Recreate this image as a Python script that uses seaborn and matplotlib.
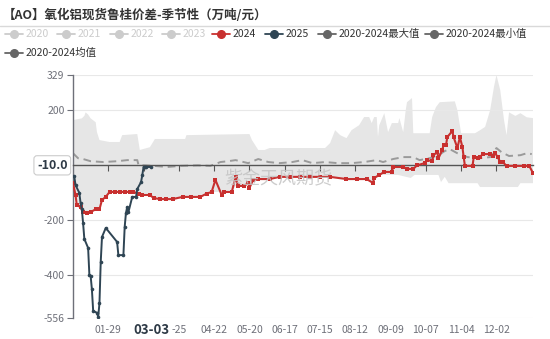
import numpy as np
import pandas as pd
import matplotlib
matplotlib.use("Agg")
import matplotlib.pyplot as plt
import seaborn as sns
from matplotlib.lines import Line2D

# ---------------- data ----------------
title = "【AO】氧化铝现货鲁桂价差-季节性（万吨/元）"
legend_labels = ["2020", "2021", "2022", "2023", "2024", "2025",
                 "2020-2024最大值", "2020-2024最小值", "2020-2024均值"]

dates_2024 = ["01-01", "01-03", "01-04", "01-07", "01-09", "01-12", "01-15", "01-19", "01-22", "01-24", "01-27", "01-30",
              "02-03", "02-07", "02-11", "02-15", "02-18", "02-22", "02-25",
              "03-02", "03-05", "03-10", "03-15", "03-20", "03-28",
              "04-04", "04-11", "04-16", "04-20", "04-23", "04-28", "04-30",
              "05-06", "05-09", "05-11", "05-16", "05-19", "05-20", "05-23", "05-27",
              "06-05", "06-13", "06-21", "06-29",
              "07-07", "07-15", "07-23",
              "08-05", "08-13", "08-21", "08-26", "08-27", "08-31",
              "09-04", "09-10", "09-11", "09-19", "09-22", "09-27", "09-30",
              "10-06", "10-08", "10-12", "10-13", "10-16", "10-17", "10-20", "10-21", "10-23", "10-24", "10-28", "10-29",
              "11-01", "11-03", "11-05", "11-06", "11-07", "11-13", "11-14", "11-17", "11-19", "11-21", "11-27", "11-29",
              "12-01", "12-03", "12-05", "12-07", "12-10", "12-17", "12-24", "12-28", "12-31"]
vals_2024 = [-64, -108, -145, -152, -170, -174, -170, -160, -160, -126, -115, -97,
             -97, -97, -97, -97, -97, -103, -108,
             -108, -119, -123, -123, -123, -115,
             -115, -115, -103, -97, -53, -108, -97,
             -97, -42, -75, -75, -64, -82, -53, -50,
             -50, -42, -42, -42,
             -42, -42, -42,
             -50, -50, -50, -64, -46, -35,
             -24, -24, -6, -6, -13, -13, 0,
             8, 19, 15, 37, 48, 26, 56, 74, 74, 103, 125, 103,
             63, 103, 66, 30, -2, -2, 30, 26, 30, 41, 41, 34,
             44, 30, 12, 12, -2, -2, -2, -2, -28]

dates_2025 = ["01-02", "01-03", "01-06", "01-07", "01-08", "01-09", "01-10", "01-13", "01-14", "01-15", "01-16", "01-17",
              "01-20", "01-21", "01-22", "01-23", "01-24", "01-27",
              "02-05", "02-06", "02-10", "02-11", "02-12", "02-13", "02-14", "02-17", "02-20", "02-21", "02-24",
              "02-25", "02-26", "02-27", "02-28", "03-03"]
vals_2025 = [-40, -72, -100, -137, -160, -210, -268, -301, -400, -403, -452, -530,
             -537, -552, -502, -352, -261, -228,
             -279, -327, -327, -225, -174, -152, -170, -115, -115, -86, -61,
             -35, -6, -6, -6, -6]

max_dates = ["01-01", "01-08", "01-10", "01-11", "01-13", "01-15", "01-19", "01-20", "01-22", "01-30",
             "02-07", "02-09", "02-21", "02-23",
             "03-02", "03-06", "03-30", "03-31",
             "05-20", "05-22", "05-27",
             "06-01", "06-05",
             "07-19", "07-23", "07-27", "07-31",
             "08-05", "08-09", "08-15", "08-19", "08-23", "08-25", "08-27", "08-29", "08-30", "08-31",
             "09-04", "09-07", "09-10", "09-15", "09-16", "09-19", "09-21", "09-22", "09-26", "09-27",
             "10-10", "10-12", "10-15", "10-18", "10-30",
             "11-01", "11-04", "11-15", "11-19", "11-23", "11-27", "11-30",
             "12-02", "12-05", "12-08", "12-10", "12-12", "12-17", "12-21", "12-26", "12-31"]
max_vals = [165, 171, 180, 193, 185, 171, 157, 121, 92, 85,
            85, 110, 114, 56,
            66, 96, 96, 110,
            114, 92, 56,
            56, 63,
            63, 81, 128, 110,
            99, 128, 146, 176, 176, 154, 176, 176, 103, 146,
            190, 121, 154, 154, 172, 121, 200, 230, 245, 117,
            117, 176, 212, 230, 233,
            201, 117, 117, 128, 140, 201, 285,
            329, 274, 165, 110, 193, 180, 190, 175, 172]

min_dates = ["01-01", "01-03", "01-04", "01-07", "01-09", "01-12", "01-15", "01-19", "01-22", "01-24", "01-27", "01-30",
             "02-18", "02-22",
             "03-02", "03-05", "03-20", "03-28",
             "04-11", "04-16", "04-20",
             "05-06", "05-09", "05-16", "05-19", "05-20", "05-23", "05-27",
             "06-05", "06-13",
             "07-23",
             "08-05", "08-21", "08-26", "08-31",
             "09-15", "09-25", "09-28",
             "10-17", "10-19", "10-22", "10-25",
             "11-17", "11-19",
             "12-19", "12-21", "12-31"]
min_vals = [-64, -108, -145, -152, -170, -174, -170, -160, -160, -126, -115, -97,
            -97, -103,
            -108, -119, -123, -115,
            -115, -103, -97,
            -97, -75, -75, -64, -82, -53, -50,
            -50, -42,
            -42,
            -50, -50, -64, -35,
            -35, -46, -35,
            -35, -61, -42, -65,
            -65, -79,
            -79, -65, -65]

mean_dates = ["01-01", "01-05", "01-09", "01-15", "01-25",
              "02-05", "02-13", "02-21", "02-22",
              "03-05", "03-16", "03-26",
              "04-09", "04-19", "04-27",
              "05-03", "05-09", "05-19", "05-27",
              "06-04", "06-13", "06-23",
              "07-01", "07-09", "07-19", "07-29",
              "08-09", "08-19", "08-29",
              "09-03", "09-11", "09-19", "09-27",
              "10-02", "10-10", "10-17", "10-22", "10-26",
              "11-01", "11-09", "11-19", "11-27",
              "12-02", "12-06", "12-12", "12-21", "12-26", "12-30"]
mean_vals = [44, 26, 23, 15, 12,
             15, 19, 19, 1,
             -2, -6, -2,
             0, -2, 12,
             15, 19, 8, 23,
             12, 8, 12,
             19, 8, 12, 8,
             8, 12, 19,
             12, 23, 30, 30,
             19, 26, 37, 52, 59,
             44, 30, 26, 30,
             63, 48, 34, 37, 44, 41]

tick_dates = ["01-29", "02-26", "03-25", "04-22", "05-20", "06-17", "07-15",
              "08-12", "09-09", "10-07", "11-04", "12-02"]
tick_labels = ["01-29", "", "-25", "04-22", "05-20", "06-17", "07-15",
               "08-12", "09-09", "10-07", "11-04", "12-02"]
y_ticks = [329, 200, -200, -400, -556]
pointer_date = "03-03"
pointer_value_label = "-10.0"
watermark = "紫金天风期货"

# ---------------- helpers ----------------
def doy(dates):
    return pd.to_datetime(["2024-" + d for d in dates]).dayofyear.values.astype(float)

RED = "#c8302f"
NAVY = "#2f4554"
BAND = "#e6e6e6"
MEAN = "#9a9a9a"
AX = "#6e7079"

W, H = 550, 339
sns.set_theme(style="white")
plt.rcParams["font.family"] = ["Noto Sans CJK SC", "DejaVu Sans"]
plt.rcParams["axes.unicode_minus"] = False

fig = plt.figure(figsize=(W / 100, H / 100), dpi=100)
ax = fig.add_axes([73 / W, (H - 318) / H, 460 / W, 243 / H])

# band (max/min of 2020-2024)
mx, mn = doy(max_dates), doy(min_dates)
ax.fill(np.r_[mx, mn[::-1]], np.r_[max_vals, min_vals[::-1]],
        color=BAND, lw=0, zorder=0.2)

# mean (dashed)
sns.lineplot(x=doy(mean_dates), y=mean_vals, ax=ax, color=MEAN, lw=1.4,
             errorbar=None, zorder=2)
ax.lines[-1].set_dashes((4, 2.5))

# 2024
sns.lineplot(x=doy(dates_2024), y=vals_2024, ax=ax, color=RED, lw=1.5,
             marker="s", markersize=2.8, markeredgewidth=0, errorbar=None, zorder=4)
# 2025
sns.lineplot(x=doy(dates_2025), y=vals_2025, ax=ax, color=NAVY, lw=1.4,
             marker="o", markersize=2.6, markeredgewidth=0, errorbar=None, zorder=5)

ax.set_xlim(1, 366)
ax.set_ylim(-556, 329)
ax.set_xlabel("")
ax.set_ylabel("")

# axes styling
for s in ["top", "right"]:
    ax.spines[s].set_visible(False)
ax.spines["left"].set_color(AX)
ax.spines["left"].set_linewidth(1)
ax.spines["bottom"].set_position(("data", 0))
ax.spines["bottom"].set_color("#555555")
ax.spines["bottom"].set_linewidth(1)
ax.spines["bottom"].set_zorder(3)

ax.set_yticks(y_ticks)
ax.set_yticklabels([str(v) for v in y_ticks])
ax.tick_params(axis="y", length=4, width=0.8, color=AX, labelsize=7.5,
               labelcolor="#6e7079", pad=2, left=True)
ax.set_axisbelow(True)
ax.yaxis.grid(True, color="#e8e8e8", lw=0.8)
ax.xaxis.grid(False)

ax.set_xticks(doy(tick_dates))
ax.tick_params(axis="x", length=4, width=0.8, color="#555555", labelbottom=False,
               bottom=True, direction="out")

sec = ax.secondary_xaxis(0)
sec.set_xticks(doy(tick_dates), labels=tick_labels)
sec.tick_params(length=0, pad=5, labelsize=7.5, labelcolor="#6e7079")
sec.spines["bottom"].set_visible(False)

# highlighted pointer labels
ax.text(doy([pointer_date])[0], -0.048, pointer_date, transform=ax.get_xaxis_transform(),
        ha="center", va="center", fontsize=9.5, fontweight="bold", color="#2e3a46",
        bbox=dict(boxstyle="square,pad=0.15", fc="white", ec="none"), zorder=10, clip_on=False)
ax.text(-0.045, 0, pointer_value_label, transform=ax.get_yaxis_transform(),
        ha="center", va="center", fontsize=9, fontweight="bold", color="#2e3a46",
        bbox=dict(boxstyle="round,pad=0.25", fc="white", ec="#cccccc", lw=0.8),
        zorder=10, clip_on=False)

# watermark
fig.text(278 / W, 1 - 179 / H, watermark, ha="center", va="center", fontsize=13,
         color="#c4c4c4", alpha=0.85)

# title + separator
fig.text(3 / W, 1 - 15 / H, title, ha="left", va="center", fontsize=9,
         fontweight="bold", color="#333333")
fig.add_artist(Line2D([0, 1], [1 - 26 / H] * 2, transform=fig.transFigure,
                      color="#d9d9d9", lw=1))

# legend (manual, in figure pixels)
leg_pos = [(5, 34), (57, 34), (110, 34), (162, 34), (212, 34), (265, 34),
           (318, 34), (425, 34), (5, 53)]
leg_icon = ["#cccccc"] * 4 + [RED, NAVY, "#666666", "#666666", "#666666"]
leg_text = ["#cccccc"] * 4 + ["#333333"] * 5
for (x0, y0), lab, ic, tc in zip(leg_pos, legend_labels, leg_icon, leg_text):
    fy = 1 - y0 / H
    fig.add_artist(Line2D([x0 / W, (x0 + 18) / W], [fy, fy], transform=fig.transFigure,
                          color=ic, lw=1.3))
    fig.add_artist(Line2D([(x0 + 9) / W], [fy], transform=fig.transFigure,
                          color=ic, marker="o", ms=5.5, lw=0))
    fig.text((x0 + 21) / W, fy, lab, ha="left", va="center", fontsize=7.5, color=tc)

fig.savefig("out.png", dpi=100)
